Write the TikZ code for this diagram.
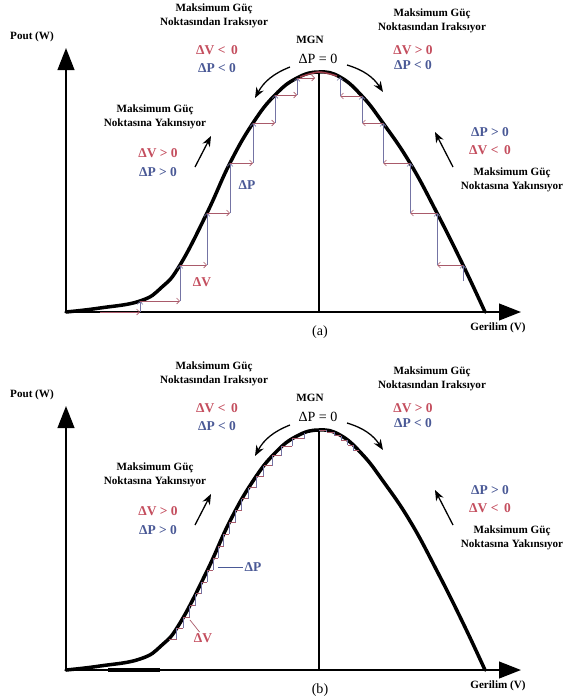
\documentclass[tikz,border=0pt]{standalone}
\usepackage{fontspec}
\setmainfont{Liberation Serif}
\usepackage{tikz}
\usetikzlibrary{arrows.meta, decorations.markings}
\usepackage{xcolor}
\definecolor{mppred}{HTML}{C44E5E}
\definecolor{mppblue}{HTML}{4A5996}
\definecolor{mppstepred}{HTML}{A95A6A}
\definecolor{mppstepblue}{HTML}{7474A4}

\begin{document}
\begin{tikzpicture}[x=0.03cm, y=-0.03cm,
    axis/.style={line width=1.8pt, -{Triangle[length=0.66cm, width=0.5cm]}},
    curve/.style={line width=3pt, line join=round, line cap=round},
    note/.style={font=\bfseries\fontsize{9.5}{12}\selectfont, align=center, inner sep=1pt},
    dv/.style={font=\bfseries\fontsize{11.5}{13}\selectfont, text=mppred, inner sep=1pt},
    dp/.style={font=\bfseries\fontsize{11.5}{13}\selectfont, text=mppblue, inner sep=1pt},
    capt/.style={font=\fontsize{12}{14}\selectfont, inner sep=1pt},
    move/.style={-{Stealth[length=9pt, width=7pt]}, line width=1.1pt},
    hstep/.style={mppstepred, line width=0.5pt, -{Straight Barb[length=2.5pt, width=5pt]}},
    vstep/.style={mppstepblue, line width=0.5pt, -{Straight Barb[length=2.5pt, width=5pt]}},
    hfine/.style={mppstepred, line width=0.7pt},
    vfine/.style={mppstepblue, line width=0.7pt},
    marks a/.style={},
    marks b/.style={
      postaction={decorate, decoration={markings,
        mark=between positions 0.163 and 0.552 step 0.0195 with
          {\coordinate (sl\pgfkeysvalueof{/pgf/decoration/mark info/sequence number});
           \xdef\nsl{\pgfkeysvalueof{/pgf/decoration/mark info/sequence number}}}}},
      postaction={decorate, decoration={markings,
        mark=between positions 0.556 and 0.636 step 0.0115 with
          {\coordinate (sr\pgfkeysvalueof{/pgf/decoration/mark info/sequence number});
           \xdef\nsr{\pgfkeysvalueof{/pgf/decoration/mark info/sequence number}}}}}}]

  \useasboundingbox (0,0) rectangle (564,698);

  \foreach \p/\dy in {a/0, b/358} {
    \begin{scope}[shift={(0,\dy)}]
      \coordinate (o-\p) at (66,312);
      \coordinate (ytip-\p) at (66,48);
      \coordinate (xtip-\p) at (521,312);
      \coordinate (top-\p) at (319,72);
      \coordinate (foot-\p) at (319,312);
      \draw[axis] (o-\p) -- (ytip-\p);
      \draw[axis] (o-\p) -- (xtip-\p);
      \draw[line width=2.2pt] (foot-\p) -- (top-\p);
      \draw[curve, marks \p] plot[smooth, tension=0.75] coordinates {
        (66,312) (100,308) (140,301) (162,287) (180,265)
        (207,213) (230,163) (253,123) (275,95) (297,78) (319,72)
        (340,77) (362,96) (383,123) (410,163) (437,213) (463,265) (485,312)};

      \node[note] (pout-\p) at (32,37) {Pout (W)};
      \node[note] (volt-\p) at (498,328) {Gerilim (V)};
      \node[capt] (cap-\p) at (320,332) {(\p)};
      \node[note] (mgn-\p) at (310,40) {MGN};
      \node[capt] (zero-\p) at (318,59) {ΔP = 0};

      \node[note] (divl-\p) at (214,16) {Maksimum Güç\\Noktasından Iraksıyor};
      \node[dv] (dvl-\p) at (217,50) {ΔV <\, 0};
      \node[dp] (dpl-\p) at (217,68) {ΔP < 0};
      \node[note] (divr-\p) at (432,21) {Maksimum Güç\\Noktasından Iraksıyor};
      \node[dv] (dvr-\p) at (413,50) {ΔV > 0};
      \node[dp] (dpr-\p) at (413,65) {ΔP < 0};
      \node[note] (conl-\p) at (155,117) {Maksimum Güç\\Noktasına Yakınsıyor};
      \node[dv] (dvcl-\p) at (158,153) {ΔV > 0};
      \node[dp] (dpcl-\p) at (158,172) {ΔP > 0};
      \node[dp] (dpcr-\p) at (490,132) {ΔP > 0};
      \node[dv] (dvcr-\p) at (490,150) {ΔV <\, 0};
      \node[note] (conr-\p) at (512,180) {Maksimum Güç\\Noktasına Yakınsıyor};

      \coordinate (dl1-\p) at (290,67);
      \coordinate (dl2-\p) at (255,98);
      \coordinate (dr1-\p) at (347,65);
      \coordinate (dr2-\p) at (383,92);
      \coordinate (cl1-\p) at (195,167);
      \coordinate (cl2-\p) at (211,136);
      \coordinate (cr1-\p) at (453,167);
      \coordinate (cr2-\p) at (435,132);
      \draw[move] (dl1-\p) to[bend right=20] (dl2-\p);
      \draw[move] (dr1-\p) to[bend left=20] (dr2-\p);
      \draw[move] (cl1-\p) -- (cl2-\p);
      \draw[move] (cr1-\p) -- (cr2-\p);
    \end{scope}
  }

  \foreach \n/\x/\y in {0/100/312, 1/140/301, 2/180/265, 3/207/213,
                        4/230/163, 5/253/123, 6/275/95, 7/297/78}
    \coordinate (sa\n) at (\x,\y);
  \coordinate (sa8) at (315,78);
  \foreach \i [evaluate=\i as \j using int(\i+1)] in {0,...,6} {
    \draw[hstep] (sa\i) -- (sa\i -| sa\j);
    \draw[vstep] (sa\i -| sa\j) -- (sa\j);
  }
  \draw[hstep] (sa7) -- (sa8);

  \foreach \n/\x/\y in {0/463/281, 1/463/265, 2/437/213, 3/410/163,
                        4/383/123, 5/362/96, 6/340/77}
    \coordinate (ra\n) at (\x,\y);
  \draw[vstep] (ra0) -- (ra1);
  \foreach \i [evaluate=\i as \j using int(\i+1)] in {1,...,5} {
    \draw[hstep] (ra\i) -- (ra\i -| ra\j);
    \draw[vstep] (ra\i -| ra\j) -- (ra\j);
  }
  \draw[mppred!80!black, line width=1.3pt] plot[smooth] coordinates {(300,77) (319,72) (337,76)};
  \node[dp] (dpa) at (247,185) {ΔP};
  \node[dv] (dva) at (202,282) {ΔV};

  \draw[line width=2.8pt] (108,670) -- (160,670);
  \pgfmathtruncatemacro\nslm{\nsl-1}
  \foreach \i [evaluate=\i as \j using int(\i+1)] in {1,...,\nslm} {
    \draw[hfine] (sl\i) -- (sl\i -| sl\j);
    \draw[vfine] (sl\i -| sl\j) -- (sl\j);
  }
  \pgfmathtruncatemacro\nsrm{\nsr-1}
  \foreach \i [evaluate=\i as \j using int(\i+1)] in {1,...,\nsrm} {
    \draw[hfine] (sr\j) -- (sr\j -| sr\i);
    \draw[vfine] (sr\j -| sr\i) -- (sr\i);
  }
  \coordinate (dptick) at (218,567);
  \node[dp] (dpb) at (253,567) {ΔP};
  \draw[mppblue, line width=0.6pt] (dptick) -- (dpb.west);
  \coordinate (dvtick) at (190,620);
  \node[dv] (dvb) at (203,638) {ΔV};
  \draw[mppstepred, line width=0.6pt] (dvtick) -- (dvb.120);
\end{tikzpicture}
\end{document}
